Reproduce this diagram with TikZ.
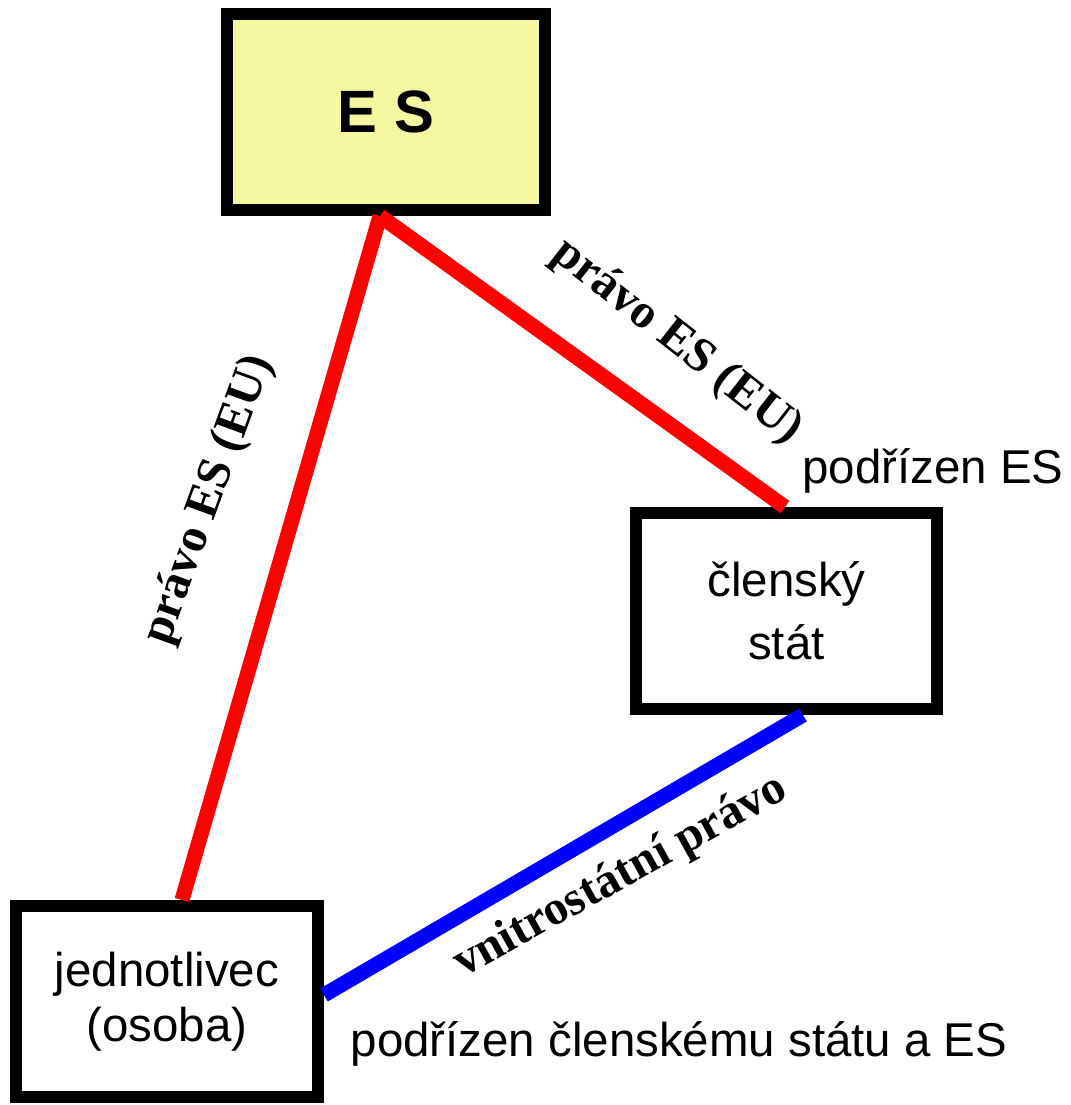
\documentclass[tikz,border=0pt]{standalone}
\usepackage{fontspec}
\setmainfont{Liberation Serif}
\setsansfont{Liberation Sans}
\usepackage{tikz}
\definecolor{esyellow}{RGB}{243,248,160}
\tikzset{box/.style={draw, line width=0.24cm, align=center, font=\sffamily\fontsize{27}{36}\selectfont},
law/.style={line width=0.3cm},
lawlabel/.style={font=\bfseries\fontsize{27.5}{32}\selectfont},
sublabel/.style={font=\sffamily\fontsize{27}{32}\selectfont}}

\begin{document}
\begin{tikzpicture}
\useasboundingbox (0,0) rectangle (21.42,-22.1);
\node[box, fill=esyellow, minimum width=6.36cm, minimum height=3.92cm, font=\sffamily\bfseries\fontsize{34}{40}\selectfont] (es) at (7.72,-2.24) {E S};
\node[box, minimum width=6.02cm, minimum height=3.92cm] (stat) at (15.73,-12.22) {členský\\stát};
\node[box, minimum width=6.04cm, minimum height=3.82cm, font=\sffamily\fontsize{27}{31}\selectfont] (osoba) at (3.34,-20.03) {jednotlivec\\(osoba)};

\draw[law, red] ([xshift=-0.12cm]es.south) -- ([xshift=0.3cm]osoba.north);
\draw[law, red] ([xshift=-0.12cm]es.south) -- ([xshift=-0.03cm]stat.north);
\draw[law, blue] ([xshift=0.33cm]stat.south) -- ([yshift=0.13cm]osoba.east);

\node[lawlabel, rotate=70] (pravo1) at (4.18,-10.0) {právo ES (EU)};
\node[lawlabel, rotate=-38] (pravo2) at (13.54,-6.84) {právo ES (EU)};
\node[lawlabel, rotate=29] (vnitro) at (12.42,-17.54) {vnitrostátní právo};
\node[sublabel] (podES) at (18.66,-9.42) {podřízen ES};
\node[sublabel] (podobe) at (13.58,-20.88) {podřízen členskému státu a ES};
\end{tikzpicture}
\end{document}
